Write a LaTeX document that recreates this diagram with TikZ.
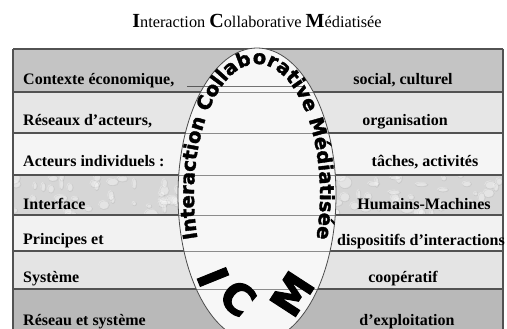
\documentclass[tikz,border=0pt]{standalone}
\usepackage{fontspec}
\setmainfont{Liberation Serif}
\newfontfamily\ellbold{DejaVu Sans Bold}[FakeBold=1.8]
\newfontfamily\icmbold{DejaVu Sans Bold}[FakeBold=2.5]
\usetikzlibrary{decorations.text}
\definecolor{rowa}{HTML}{C4C4C4}
\definecolor{rowb}{HTML}{E6E6E6}
\definecolor{rowc}{HTML}{F5F5F5}
\definecolor{rowd}{HTML}{D6D6D6}
\definecolor{rowe}{HTML}{F2F2F2}
\definecolor{rowf}{HTML}{E4E4E4}
\definecolor{rowg}{HTML}{B9B9B9}
\definecolor{ellfill}{HTML}{F7F7F7}
\begin{document}
\begin{tikzpicture}[x=1pt,y=1pt,
  ltxt/.style={font=\fontsize{16}{18}\selectfont\bfseries, inner sep=0pt, anchor=base west},
  rtxt/.style={font=\fontsize{16}{18}\selectfont\bfseries, inner sep=0pt, anchor=base},
  rowline/.style={draw=black!68, line width=1.3pt},
  inline/.style={draw=black!45, line width=0.8pt},
  icm/.style={font=\icmbold\fontsize{42}{42}\selectfont, inner sep=0pt}
]
\useasboundingbox (0,0) rectangle (507,-329);
\clip (0,0) rectangle (507,-329);
\fill[white] (0,0) rectangle (507,-329);

% title
\node[anchor=base, inner sep=0pt] (title) at (257,-28)
  {{\fontsize{20}{22}\selectfont\bfseries I}{\fontsize{16.3}{18}\selectfont nteraction }{\fontsize{20}{22}\selectfont\bfseries C}{\fontsize{16.3}{18}\selectfont ollaborative }{\fontsize{20}{22}\selectfont\bfseries M}{\fontsize{16.3}{18}\selectfont édiatisée}};

% rows
\fill[rowa] (13,-49) rectangle (503,-92);
\fill[rowb] (13,-92) rectangle (503,-133);
\fill[rowc] (13,-133) rectangle (503,-175);
\fill[rowd] (13,-175) rectangle (503,-215);
\fill[rowe] (13,-215) rectangle (503,-251);
\fill[rowf] (13,-251) rectangle (503,-289);
\fill[rowg] (13,-289) rectangle (503,-329);

% droplet texture on row 4
\begin{scope}
\clip (13,-175) rectangle (503,-215);
\pgfmathsetseed{11}
\foreach \i in {1,...,110}{
  \pgfmathsetmacro\xx{13+490*rnd}
  \pgfmathsetmacro\yy{-175-40*rnd}
  \pgfmathsetmacro\rx{2+5*rnd}
  \pgfmathsetmacro\ry{2+4*rnd}
  \fill[white, opacity=0.35] (\xx,\yy) ellipse [x radius=\rx pt, y radius=\ry pt];
  \draw[black!40, opacity=0.25, line width=0.4pt] (\xx+0.8,\yy-0.8) ellipse [x radius=\rx pt, y radius=\ry pt];
}
\end{scope}

% row separators
\foreach \yy in {-49,-92,-133,-175,-215,-251,-289}{
  \draw[rowline] (13,\yy) -- (503,\yy);
}
\draw[rowline] (13,-49) -- (13,-329);
\draw[rowline] (503,-49) -- (503,-329);

% underline
\draw[black!65, line width=0.8pt] (187,-86) -- (305,-86);

% ellipse
\fill[ellfill] (257,-195) ellipse [x radius=79pt, y radius=147pt];
\begin{scope}
\clip (257,-195) ellipse [x radius=79pt, y radius=147pt];
\foreach \yy in {-92,-133,-175,-215,-251,-289}{
  \draw[inline] (13,\yy) -- (503,\yy);
}
\draw[black!55, line width=0.8pt] (187,-86) -- (305,-86);
\end{scope}
\draw[black!70, line width=0.8pt] (257,-195) ellipse [x radius=79pt, y radius=147pt];

% text along the ellipse
\path[decorate, decoration={text along path, text align=center,
  text={|\ellbold\fontsize{19.5}{19.5}\selectfont|Interaction Collaborative Médiatisée}}]
  (257,-195) ++(215:63pt and 131pt) arc[start angle=215, end angle=-35, x radius=63pt, y radius=131pt];

% ICM letters
\node[icm, rotate=-68] (icmI) at (213,-277) {I};
\node[icm, rotate=-40] (icmC) at (238,-298) {C};
\node[icm, rotate=57] (icmM) at (292,-294) {M};

% left texts
\node[ltxt] (l1) at (23,-85) {Contexte économique,};
\node[ltxt] (l2) at (23,-126) {Réseaux d’acteurs,};
\node[ltxt] (l3) at (23,-167) {Acteurs individuels :};
\node[ltxt] (l4) at (23,-209) {Interface};
\node[ltxt] (l5) at (23,-244) {Principes et};
\node[ltxt] (l6) at (23,-283) {Système};
\node[ltxt] (l7) at (23,-325) {Réseau et système};

% right texts
\node[rtxt] (r1) at (403,-85) {social, culturel};
\node[rtxt] (r2) at (405,-126) {organisation};
\node[rtxt] (r3) at (425,-167) {tâches, activités};
\node[rtxt] (r4) at (424,-209) {Humains-Machines};
\node[rtxt, anchor=base west] (r5) at (337,-245) {dispositifs d’interactions};
\node[rtxt] (r6) at (403,-283) {coopératif};
\node[rtxt] (r7) at (407,-325) {d’exploitation};
\end{tikzpicture}
\end{document}
